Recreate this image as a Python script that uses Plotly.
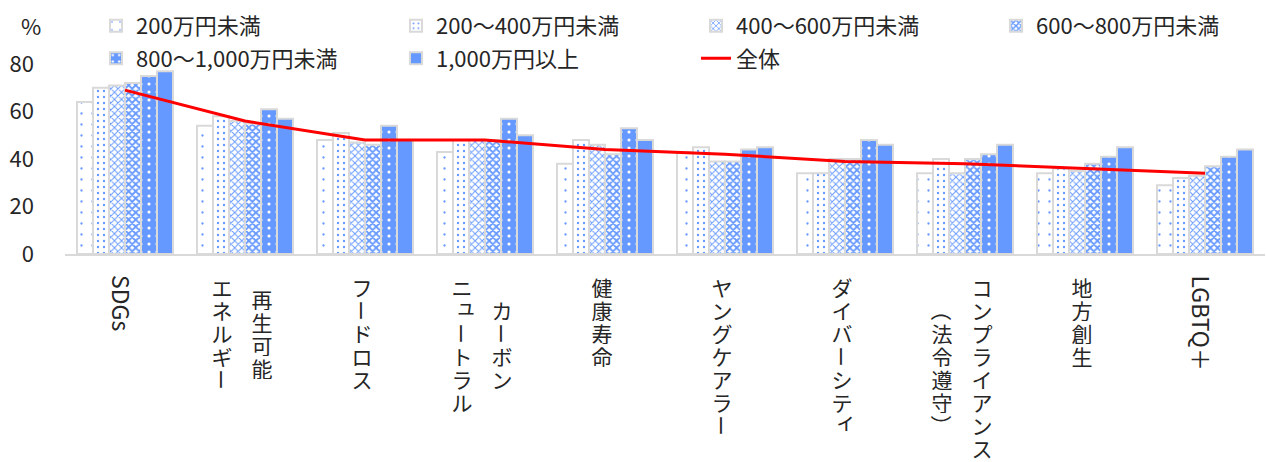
import plotly.graph_objects as go

# ---- data -------------------------------------------------------------
categories = [
    "SDGs", "再生可能エネルギー", "フードロス", "カーボンニュートラル", "健康寿命",
    "ヤングケアラー", "ダイバーシティ", "コンプライアンス（法令遵守）", "地方創生", "LGBTQ＋",
]
# vertical label columns, read right-to-left
label_columns = [
    ["SDGs"], ["再生可能", "エネルギー"], ["フードロス"], ["カーボン", "ニュートラル"],
    ["健康寿命"], ["ヤングケアラー"], ["ダイバーシティ"], ["コンプライアンス", "（法令遵守）"],
    ["地方創生"], ["LGBTQ＋"],
]
latin_labels = {"SDGs", "LGBTQ＋"}

series_names = ["200万円未満", "200～400万円未満", "400～600万円未満",
                "600～800万円未満", "800～1,000万円未満", "1,000万円以上"]
income_lt200 = [64, 54, 48, 43, 38, 43, 34, 34, 34, 29]
income_200_400 = [70, 58, 51, 48, 48, 45, 34, 40, 36, 32]
income_400_600 = [71, 56, 47, 48, 46, 39, 40, 34, 35, 33]
income_600_800 = [72, 55, 46, 48, 42, 39, 40, 40, 38, 37]
income_800_1000 = [75, 61, 54, 57, 53, 44, 48, 42, 41, 41]
income_ge1000 = [77, 57, 48, 50, 48, 45, 46, 46, 45, 44]
total_name = "全体"
total_all = [69, 56, 48, 48, 44, 42, 39, 38, 36, 34]

y_ticks = [0, 20, 40, 60, 80]

# ---- styling ----------------------------------------------------------
W, H = 1266, 462
ML, MR, MT, MB = 65, 1, 64, 208
PW, PH = W - ML - MR, H - MT - MB
FONT = "Noto Sans CJK JP"
TXT = "#262626"
BLUE = "#6699FF"
EDGE = "#D9D9D9"

patterns = [
    dict(shape=".", size=11, solidity=0.035, fgcolor=BLUE, bgcolor="white"),
    dict(shape=".", size=6, solidity=0.12, fgcolor=BLUE, bgcolor="white"),
    dict(shape="x", size=5, solidity=0.35, fgcolor=BLUE, bgcolor="white"),
    dict(shape="x", size=5, solidity=0.6, fgcolor=BLUE, bgcolor="white"),
    dict(shape=".", size=8, solidity=0.12, fgcolor="white", bgcolor=BLUE),
    None,
]
series_values = [income_lt200, income_200_400, income_400_600,
                 income_600_800, income_800_1000, income_ge1000]


def px_to_paper_x(px):
    return (px - ML) / PW


def px_to_paper_y(py):
    return (H - MB - py) / PH


# legend slots: (legend id, left px, centre y px)
col_left = [96, 396, 696, 996]
row_mid = [26, 58.5]
slots = [(0, 0), (0, 1), (0, 2), (0, 3), (1, 0), (1, 1), (1, 2)]
legend_ids = ["legend"] + [f"legend{i}" for i in range(2, 8)]

fig = go.Figure()
for k, (name, vals) in enumerate(zip(series_names, series_values)):
    marker = dict(color="white" if patterns[k] else BLUE,
                  line=dict(color=EDGE, width=2))
    if patterns[k]:
        marker["pattern"] = dict(fillmode="replace", **patterns[k])
    fig.add_trace(go.Bar(name=name, x=categories, y=vals, marker=marker,
                         legend=legend_ids[k], showlegend=True))

fig.add_trace(go.Scatter(name=total_name, x=categories, y=total_all, mode="lines",
                         line=dict(color="#FF0000", width=3), legend=legend_ids[6],
                         showlegend=True))

layout_legends = {}
for lid, (r, c) in zip(legend_ids, slots):
    layout_legends[lid] = dict(
        x=px_to_paper_x(col_left[c]), xanchor="left",
        y=px_to_paper_y(row_mid[r]), yanchor="middle",
        bgcolor="rgba(0,0,0,0)", borderwidth=0,
        font=dict(family=FONT, size=22, color=TXT),
        orientation="h",
    )

# vertical category labels built character by character
ADV = 23          # vertical advance per character (px)
FIRST = 33        # distance from axis to the centre of the first character (px)
ROTATE = set("ー（）")
SMALL = set("ァィゥェォャュョッ")
annotations = []
for cat, cols in zip(categories, label_columns):
    longest = max(len(c) for c in cols)
    n = len(cols)
    for j, col in enumerate(cols):
        if n == 2:
            xs = -3 + (20 if j == 0 else -20)
        else:
            xs = -3
        if col in latin_labels:
            annotations.append(dict(
                x=cat, y=0, xref="x", yref="y", text=col, showarrow=False,
                textangle=90, xanchor="center", yanchor="top",
                xshift=xs, yshift=-19,
                font=dict(family=FONT, size=23, color=TXT)))
            continue
        start = FIRST + (longest - len(col)) * ADV / 2
        for k, ch in enumerate(col):
            dx, dy = (4, 5) if ch in SMALL else (0, 0)
            rot = ch in ROTATE
            annotations.append(dict(
                x=cat, y=0, xref="x", yref="y", text=ch, showarrow=False,
                textangle=90 if rot else 0,
                width=None if rot else 22, height=None if rot else 22,
                valign="middle", align="center",
                xanchor="center", yanchor="middle",
                xshift=xs + dx, yshift=-(start + k * ADV) + dy,
                font=dict(family=FONT, size=21, color=TXT)))

annotations.append(dict(
    x=px_to_paper_x(31), y=px_to_paper_y(25), xref="paper", yref="paper",
    text="%", showarrow=False, xanchor="center", yanchor="middle",
    font=dict(family=FONT, size=22, color=TXT)))

fig.update_layout(
    width=W, height=H,
    margin=dict(l=ML, r=MR, t=MT, b=MB, autoexpand=False),
    paper_bgcolor="white", plot_bgcolor="white",
    barmode="group", bargap=0.2, bargroupgap=0,
    showlegend=True,
    font=dict(family=FONT, size=22, color=TXT),
    annotations=annotations,
    **layout_legends,
)
fig.update_xaxes(type="category", range=[-0.5, len(categories) - 0.5],
                 showticklabels=False, ticks="", showgrid=False,
                 showline=True, linecolor=EDGE, linewidth=2, zeroline=False)
fig.update_yaxes(range=[0, 80], tickvals=y_ticks, showgrid=False, showline=False,
                 zeroline=False, ticks="", ticklabelstandoff=30,
                 tickfont=dict(family=FONT, size=22, color=TXT))

fig.write_html("out.html")
